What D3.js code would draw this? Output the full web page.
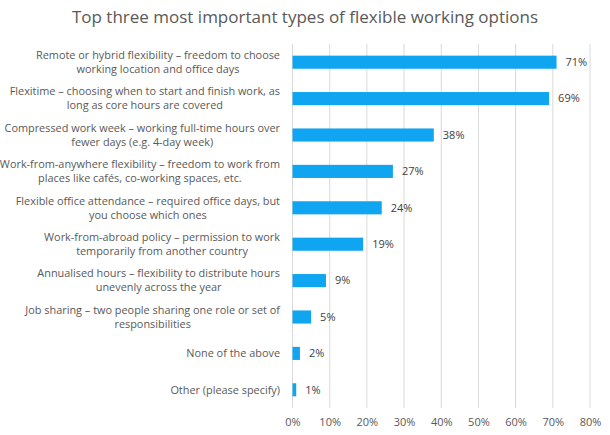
<!DOCTYPE html>
<html>
<head>
<meta charset="utf-8">
<script src="https://cdn.jsdelivr.net/npm/d3@7"></script>
<style>
  body { margin: 0; background: #fff; }
  svg { font-family: "Open Sans", sans-serif; }
</style>
</head>
<body>
<svg id="chart"></svg>
<script>
const categories = [
  ["Remote or hybrid flexibility – freedom to choose", "working location and office days"],
  ["Flexitime – choosing when to start and finish work, as", "long as core hours are covered"],
  ["Compressed work week – working full-time hours over", "fewer days (e.g. 4-day week)"],
  ["Work-from-anywhere flexibility – freedom to work from", "places like cafés, co-working spaces, etc."],
  ["Flexible office attendance – required office days, but", "you choose which ones"],
  ["Work-from-abroad policy – permission to work", "temporarily from another country"],
  ["Annualised hours – flexibility to distribute hours", "unevenly across the year"],
  ["Job sharing – two people sharing one role or set of", "responsibilities"],
  ["None of the above"],
  ["Other (please specify)"]
];
const values = [71, 69, 38, 27, 24, 19, 9, 5, 2, 1];
const xTicks = [0, 10, 20, 30, 40, 50, 60, 70, 80];
const title = "Top three most important types of flexible working options";

const width = 610, height = 435;
const margin = {top: 44, right: 20, bottom: 27, left: 292.5};

const svg = d3.select("#chart").attr("width", width).attr("height", height);

svg.append("text")
  .attr("x", 305).attr("y", 23)
  .attr("text-anchor", "middle")
  .attr("fill", "#595959")
  .style("font-size", "17px")
  .text(title);

const x = d3.scaleLinear().domain([0, 80]).range([margin.left, 590]);
const y = d3.scaleBand().domain(d3.range(categories.length))
  .range([margin.top, height - margin.bottom]).paddingInner(0.64).paddingOuter(0.32);

// gridlines
svg.append("g").selectAll("line").data(xTicks).join("line")
  .attr("x1", d => x(d)).attr("x2", d => x(d))
  .attr("y1", margin.top).attr("y2", height - margin.bottom)
  .attr("stroke", "#d9d9d9").attr("stroke-width", 1);

// x axis labels
const xAxis = d3.axisBottom(x).tickValues(xTicks).tickFormat(d => d + "%").tickSize(0).tickPadding(10);
svg.append("g")
  .attr("transform", `translate(0,${height - margin.bottom})`)
  .call(xAxis)
  .call(g => g.select(".domain").remove())
  .call(g => g.selectAll("text").attr("fill", "#595959").style("font-size", "11px").style("font-family", "'Open Sans', sans-serif"));

// bars
svg.append("g").selectAll("rect").data(values).join("rect")
  .attr("x", x(0))
  .attr("y", (d, i) => y(i))
  .attr("width", d => x(d) - x(0))
  .attr("height", y.bandwidth())
  .attr("fill", "#10a5f0");

// value labels
svg.append("g").selectAll("text").data(values).join("text")
  .attr("x", d => x(d) + 9)
  .attr("y", (d, i) => y(i) + y.bandwidth() / 2)
  .attr("dy", "0.35em")
  .attr("fill", "#404040")
  .style("font-size", "11px")
  .text(d => d + "%");

// category labels: block right-aligned, lines centered within block
const labelRight = 280, lineH = 14;
const lab = svg.append("g").selectAll("g").data(categories).join("g");
lab.each(function(lines, i) {
  const g = d3.select(this);
  const cy = y(i) + y.bandwidth() / 2;
  const texts = lines.map((ln, j) => g.append("text")
    .attr("y", cy + (j - (lines.length - 1) / 2) * lineH)
    .attr("dy", "0.35em")
    .attr("text-anchor", "middle")
    .attr("fill", "#595959")
    .style("font-size", "10.9px")
    .text(ln));
  const maxW = d3.max(texts, t => t.node().getComputedTextLength());
  texts.forEach(t => t.attr("x", labelRight - maxW / 2));
});
</script>
</body>
</html>
